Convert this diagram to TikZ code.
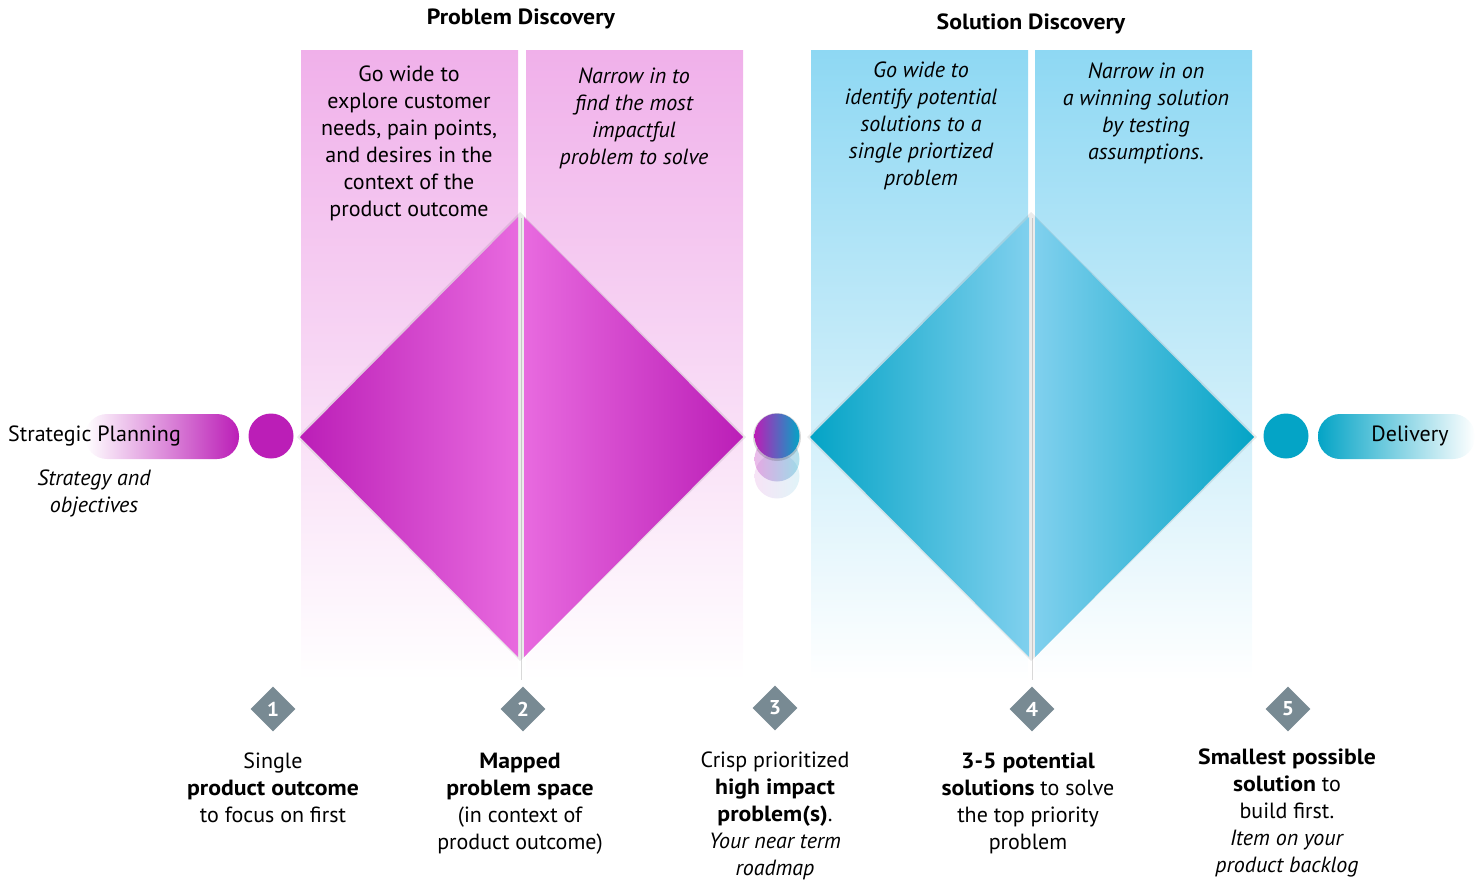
\documentclass[tikz,border=0pt]{standalone}
\usepackage{fontspec}
\setmainfont{PT Sans}[BoldFeatures={FakeStretch=1.08}]
\usetikzlibrary{shapes.geometric}
\definecolor{discpink}{RGB}{240,176,234}
\definecolor{discmagenta}{RGB}{187,30,183}
\definecolor{lightmagenta}{RGB}{232,106,223}
\definecolor{solblue}{RGB}{142,216,243}
\definecolor{solteal}{RGB}{4,164,198}
\definecolor{lightteal}{RGB}{128,208,238}
\definecolor{stepgray}{RGB}{120,138,147}

\begin{document}
\begin{tikzpicture}[
    x=1pt, y=-1pt,
    body/.style={font=\fontsize{22}{27}\selectfont, align=center, anchor=north, inner sep=0pt},
    note/.style={body, font=\fontsize{22}{27}\selectfont\itshape},
    heading/.style={font=\fontsize{22}{26}\selectfont\bfseries},
    stepmark/.style={diamond, fill=stepgray, minimum size=45pt, inner sep=0pt, text=white, font=\fontsize{20}{20}\selectfont\bfseries},
    dot/.style={circle, minimum size=45pt, inner sep=0pt}
]
\useasboundingbox (0,0) rectangle (1475,881);

% Titles
\node[heading] (probtitle) at (521,19) {Problem Discovery};
\node[heading] (soltitle) at (1031,24) {Solution Discovery};

% Problem discovery columns
\shade[top color=discpink, bottom color=white] (301,50) rectangle (518,680);
\shade[top color=discpink, bottom color=white] (526,50) rectangle (743,680);

% Solution discovery columns
\shade[top color=solblue, bottom color=white] (811,50) rectangle (1028,680);
\shade[top color=solblue, bottom color=white] (1035,50) rectangle (1252,680);

% Split lines
\draw[gray!30, line width=1pt] (521,218) -- (521,680);
\draw[gray!30, line width=1pt] (1032,218) -- (1032,680);

% Problem diamond
\fill[black, opacity=0.08] (297,437) -- (520,212) -- (746,437) -- (520,661) -- cycle;
\shade[left color=discmagenta, right color=lightmagenta] (300,437) -- (518,217) -- (518,657) -- cycle;
\shade[left color=lightmagenta, right color=discmagenta] (524,217) -- (743,437) -- (524,657) -- cycle;

% Solution diamond
\fill[black, opacity=0.08] (807,437) -- (1031,212) -- (1257,437) -- (1031,661) -- cycle;
\shade[left color=solteal, right color=lightteal] (810,437) -- (1029,217) -- (1029,657) -- cycle;
\shade[left color=lightteal, right color=solteal] (1035,217) -- (1254,437) -- (1035,657) -- cycle;

% Column texts
\node[body] (wide1) at (409,66) {Go wide to\\explore customer\\needs, pain points,\\and desires in the\\context of the\\product outcome};
\node[note] (narrow1) at (634,68) {Narrow in to\\find the most\\impactful\\problem to solve};
\node[note] (wide2) at (921,62) {Go wide to\\identify potential\\solutions to a\\single priortized\\problem};
\node[note] (narrow2) at (1146,63) {Narrow in on\\a winning solution\\by testing\\assumptions.};

% Strategic planning
\shade[left color=white, right color=discmagenta, rounded corners=22pt] (85,414) rectangle (239,459);
\node[font=\fontsize{22}{27}\selectfont, anchor=west, inner sep=0pt] (plan) at (8,436) {Strategic Planning};
\node[note] (strategy) at (94,470) {Strategy and\\objectives};
\node[dot, fill=discmagenta] (plandot) at (271,436) {};

% Hand over between the diamonds
\node[dot, left color=discmagenta, right color=solteal, opacity=0.12] (ghost2) at (777,476) {};
\node[dot, left color=discmagenta, right color=solteal, opacity=0.3] (ghost1) at (777,459) {};
\node[dot, fill=black, opacity=0.15, minimum size=48pt] (shadow) at (777,437) {};
\node[dot, left color=discmagenta, right color=solteal] (handover) at (777,436) {};

% Delivery
\node[dot, fill=solteal] (deliverdot) at (1286,436) {};
\shade[left color=solteal, right color=white, rounded corners=22pt] (1318,414) rectangle (1475,459);
\node[font=\fontsize{22}{27}\selectfont, inner sep=0pt] (deliver) at (1410,436) {Delivery};

% Steps
\node[stepmark] (s1) at (273,709) {1};
\node[stepmark] (s2) at (523,709) {2};
\node[stepmark] (s3) at (775,708) {3};
\node[stepmark] (s4) at (1032,709) {4};
\node[stepmark] (s5) at (1288,709) {5};

% Step results
\node[body] (r1) at (273,753) {Single\\\textbf{product outcome}\\to focus on first};
\node[body] (r2) at (520,753) {\textbf{Mapped}\\\textbf{problem space}\\(in context of\\product outcome)};
\node[body] (r3) at (775,752) {Crisp prioritized\\\textbf{high impact}\\\textbf{problem(s)}.\\\textit{Your near term}\\\textit{roadmap}};
\node[body] (r4) at (1028,753) {\textbf{3-5 potential}\\\textbf{solutions} to solve\\the top priority\\problem};
\node[body] (r5) at (1287,749) {\textbf{Smallest possible}\\\textbf{solution} to\\build first.\\\textit{Item on your}\\\textit{product backlog}};

\end{tikzpicture}
\end{document}
